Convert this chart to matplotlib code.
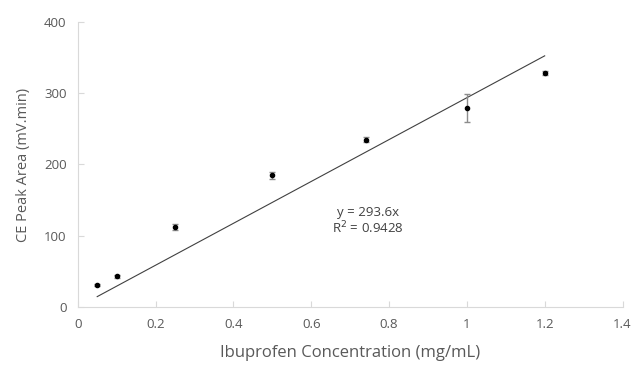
import numpy as np
from matplotlib import pyplot as plt

plt.rcParams['font.family'] = ['Open Sans', 'DejaVu Sans']

conc = [0.05, 0.1, 0.25, 0.5, 0.74, 1.0, 1.2]
area = [31, 43, 112, 185, 235, 279, 328]
err = [1.5, 1.5, 4, 5, 3, 20, 3]
slope = 293.6
r2 = 0.9428

fig = plt.figure(figsize=(6.32, 3.7), dpi=100)
ax = fig.add_axes([0.123, 0.170, 0.862, 0.771])

xf = np.array([min(conc), max(conc)])
ax.plot(xf, slope * xf, color='#404040', lw=0.8, zorder=1)
ax.errorbar(conc, area, yerr=err, fmt='o', color='black', ms=3,
            ecolor='#8c8c8c', elinewidth=1, capsize=2.5, capthick=1, zorder=3)

ax.text(0.745, 133, 'y = 293.6x', ha='center', va='center', fontsize=9.5, color='#404040')
ax.text(0.745, 111, 'R$^2$ = 0.9428', ha='center', va='center', fontsize=9.5, color='#404040')

ax.set_xlim(0, 1.4)
ax.set_ylim(0, 400)
ax.set_xticks(np.arange(0, 1.41, 0.2))
ax.set_xticklabels(['0', '0.2', '0.4', '0.6', '0.8', '1', '1.2', '1.4'])
ax.set_yticks([0, 100, 200, 300, 400])

for s in ['top', 'right']:
    ax.spines[s].set_visible(False)
for s in ['left', 'bottom']:
    ax.spines[s].set_color('#d9d9d9')
ax.tick_params(axis='x', direction='in', length=4, color='#d9d9d9', labelsize=9.5,
               labelcolor='#595959', pad=8)
ax.tick_params(axis='y', direction='in', length=4, color='#d9d9d9', labelsize=9.5,
               labelcolor='#595959', pad=8)

ax.set_xlabel('Ibuprofen Concentration (mg/mL)', fontsize=12, color='#595959', labelpad=10)
ax.set_ylabel('CE Peak Area (mV.min)', fontsize=10.5, color='#595959', labelpad=9)

plt.savefig('out.png', dpi=100)
plt.close()
